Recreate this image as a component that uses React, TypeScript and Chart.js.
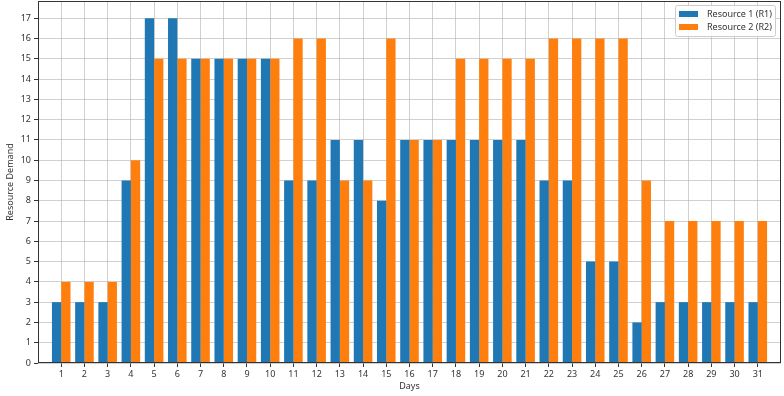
import { useEffect, useRef } from 'react';
import { Chart, registerables } from 'chart.js';

Chart.register(...registerables);

const days = [1, 2, 3, 4, 5, 6, 7, 8, 9, 10, 11, 12, 13, 14, 15, 16, 17, 18, 19, 20, 21, 22, 23, 24, 25, 26, 27, 28, 29, 30, 31];
const r1 = [3, 3, 3, 9, 17, 17, 15, 15, 15, 15, 9, 9, 11, 11, 8, 11, 11, 11, 11, 11, 11, 9, 9, 5, 5, 2, 3, 3, 3, 3, 3];
const r2 = [4, 4, 4, 10, 15, 15, 15, 15, 15, 15, 16, 16, 9, 9, 16, 11, 11, 15, 15, 15, 15, 16, 16, 16, 16, 9, 7, 7, 7, 7, 7];
const yTicks = [0, 1, 2, 3, 4, 5, 6, 7, 8, 9, 10, 11, 12, 13, 14, 15, 16, 17];
const seriesNames = ['Resource 1 (R1)', 'Resource 2 (R2)'];
const seriesColors = ['#1f77b4', '#ff7f0e'];

const FONT = '"Noto Sans", "DejaVu Sans", sans-serif';

const framePlugin = {
  id: 'frameLegend',
  afterDraw(chart: any) {
    const { ctx, chartArea: a } = chart;
    ctx.save();
    ctx.strokeStyle = '#333';
    ctx.lineWidth = 1;
    ctx.strokeRect(Math.round(a.left) + 0.5, Math.round(a.top) + 0.5, Math.round(a.right - a.left) - 1, Math.round(a.bottom - a.top) - 1);

    // legend
    const bx = 675.5, by = 5.5, bw = 100, bh = 31;
    ctx.fillStyle = 'rgba(255,255,255,0.85)';
    ctx.strokeStyle = '#cccccc';
    ctx.beginPath();
    (ctx as any).roundRect(bx, by, bw, bh, 2);
    ctx.fill();
    ctx.stroke();
    ctx.font = `9px ${FONT}`;
    ctx.textBaseline = 'middle';
    ctx.textAlign = 'left';
    chart.data.datasets.forEach((ds: any, i: number) => {
      const cy = 14 + i * 13;
      ctx.fillStyle = ds.backgroundColor;
      ctx.fillRect(679, cy - 3, 19, 6);
      ctx.fillStyle = '#333';
      ctx.fillText(ds.label, 707, cy + 0.5);
    });
    ctx.restore();
  },
};

export default function App() {
  const ref = useRef<HTMLCanvasElement>(null);
  useEffect(() => {
    document.body.style.margin = '0';
    const canvas = ref.current!;
    const chart = new Chart(canvas, {
      type: 'bar',
      data: {
        datasets: [
          {
            label: seriesNames[0],
            data: days.map((d, i) => ({ x: d, y: r1[i] })),
            backgroundColor: seriesColors[0],
            categoryPercentage: 0.8,
            barPercentage: 1.0,
          },
          {
            label: seriesNames[1],
            data: days.map((d, i) => ({ x: d, y: r2[i] })),
            backgroundColor: seriesColors[1],
            categoryPercentage: 0.8,
            barPercentage: 1.0,
          },
        ],
      },
      options: {
        animation: false,
        responsive: false,
        maintainAspectRatio: false,
        layout: { padding: { top: 1, right: 3, left: 0, bottom: 0 } },
        plugins: {
          legend: { display: false },
          tooltip: { enabled: false },
        },
        scales: {
          x: {
            type: 'linear',
            min: 0,
            max: 32,
            z: 1,
            offset: false,
            afterBuildTicks: (scale: any) => {
              scale.ticks = days.map((v) => ({ value: v }));
            },
            afterFit: (scale: any) => {
              scale.height = 33;
              scale.paddingLeft = 0;
              scale.paddingRight = 0;
            },
            grid: {
              offset: false,
              color: 'rgba(176,176,176,0.6)',
              lineWidth: 1,
              tickColor: '#333',
              tickLength: 4,
              drawTicks: true,
            },
            border: { display: false },
            ticks: {
              color: '#333',
              font: { family: FONT, size: 9 },
              padding: 2,
              maxRotation: 0,
              autoSkip: false,
              callback: (v: any) => String(v),
            },
            title: {
              display: true,
              text: 'Days',
              color: '#333',
              font: { family: FONT, size: 9 },
              padding: { top: 0, bottom: 4 },
            },
          },
          y: {
            type: 'linear',
            min: 0,
            max: 17.85,
            z: 1,
            afterBuildTicks: (scale: any) => {
              scale.ticks = yTicks.map((v) => ({ value: v }));
            },
            afterFit: (scale: any) => {
              scale.width = 38;
              scale.paddingTop = 0;
              scale.paddingBottom = 0;
            },
            grid: {
              offset: false,
              color: 'rgba(176,176,176,0.6)',
              lineWidth: 1,
              tickColor: '#333',
              tickLength: 4,
            },
            border: { display: false },
            ticks: {
              color: '#333',
              font: { family: FONT, size: 9 },
              padding: 3,
              callback: (v: any) => String(v),
            },
            title: {
              display: true,
              text: 'Resource Demand',
              color: '#333',
              font: { family: FONT, size: 9 },
              padding: { top: 5, bottom: 0 },
            },
          },
        },
      },
      plugins: [framePlugin],
    });
    return () => chart.destroy();
  }, []);
  return (
    <div style={{ width: 784, height: 396 }}>
      <canvas ref={ref} width={784} height={396} style={{ display: 'block', width: 784, height: 396 }} />
    </div>
  );
}
